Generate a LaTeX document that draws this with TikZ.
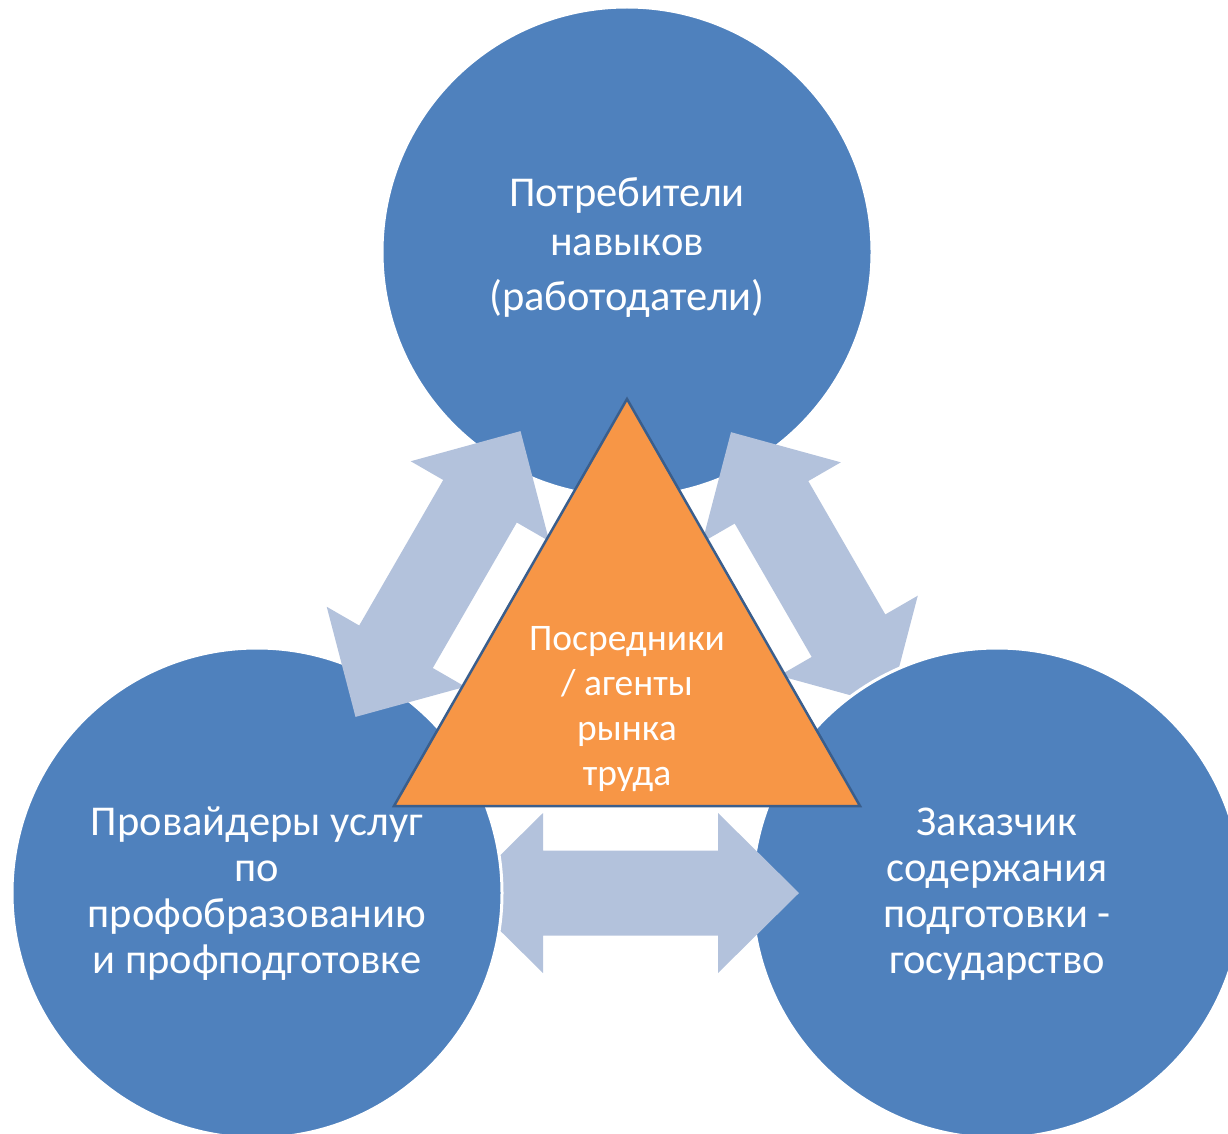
\documentclass[tikz,border=0pt]{standalone}
\usepackage{fontspec}
\setmainfont{Carlito}
\definecolor{circblue}{HTML}{4F81BD}
\definecolor{arrblue}{HTML}{B3C2DC}
\definecolor{triorange}{HTML}{F79646}
\definecolor{triedge}{HTML}{3A5E8C}
\newcommand\dblarrow[3]{%
  \fill[blockarrow, shift={#1}, rotate=#2]
    (-#3-81,0) -- (-#3,80) -- (-#3,42.5) -- (#3,42.5) -- (#3,80) -- (#3+81,0)
    -- (#3,-80) -- (#3,-42.5) -- (-#3,-42.5) -- (-#3,-80) -- cycle;}
\tikzset{
  bubble/.style={circle, fill=circblue, draw=white, line width=3pt, minimum size=490pt, inner sep=0pt},
  blockarrow/.style={fill=arrblue},
  lbl/.style={text=white, font=\fontsize{42.5}{50}\selectfont, anchor=base, inner sep=0pt},
  tlbl/.style={lbl, font=\fontsize{37.5}{45}\selectfont},
  tri/.style={fill=triorange, draw=triedge, line width=2.5pt, line join=miter},
}
\begin{document}
\begin{tikzpicture}[x=1pt, y=-1pt]
\useasboundingbox (0,0) rectangle (1228,1134);
\clip (0,0) rectangle (1228,1134);
% layers: top circle, right arrow, right circle, bottom arrow, left circle, left arrow, triangle
\node[bubble] (top) at (627,252) {};
\dblarrow{(810,569)}{-60}{77}
\node[bubble] (right) at (997,893) {};
\dblarrow{(630.5,893)}{0}{87.5}
\node[bubble] (left) at (257,893) {};
\dblarrow{(438,574)}{60}{84}
\coordinate (apex) at (627,399);
\coordinate (bl) at (394,806);
\coordinate (br) at (860,806);
\fill[tri] (apex) -- (bl) -- (br) -- cycle;
% texts
\node[lbl] (t1) at (627,207) {Потребители};
\node[lbl] (t2) at (627,255) {навыков};
\node[lbl] (t3) at (627,310) {(работодатели)};
\node[lbl] (l1) at (257,835) {Провайдеры услуг};
\node[lbl] (l2) at (257,881) {по};
\node[lbl] (l3) at (257,927) {профобразованию};
\node[lbl] (l4) at (257,973) {и профподготовке};
\node[lbl] (r1) at (997,835) {Заказчик};
\node[lbl] (r2) at (997,881) {содержания};
\node[lbl] (r3) at (997,927) {подготовки -};
\node[lbl] (r4) at (997,973) {государство};
\node[tlbl] (m1) at (627,650) {Посредники};
\node[tlbl] (m2) at (627,695) {/ агенты};
\node[tlbl] (m3) at (627,740) {рынка};
\node[tlbl] (m4) at (627,785) {труда};
\end{tikzpicture}
\end{document}
